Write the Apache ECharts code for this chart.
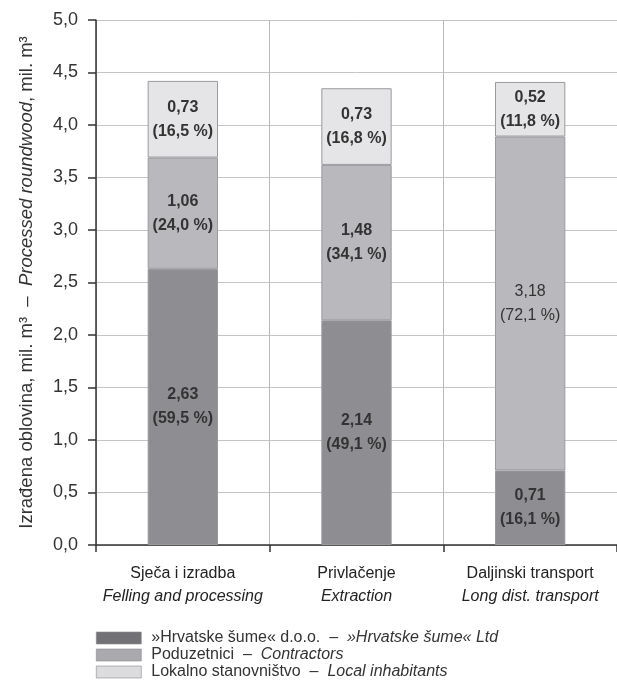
<!DOCTYPE html>
<html><head><meta charset="utf-8">
<script src="https://cdn.jsdelivr.net/npm/echarts@6/dist/echarts.min.js"></script>
<style>html,body{margin:0;padding:0;background:#fff}#c{width:617px;height:694px}</style>
</head><body><div id="c"></div>
<script>
// ---- data ----
const categoriesHr = ['Sječa i izradba', 'Privlačenje', 'Daljinski transport'];
const categoriesEn = ['Felling and processing', 'Extraction', 'Long dist. transport'];
const hsValues = [2.63, 2.14, 0.71];
const contractorValues = [1.06, 1.48, 3.18];
const localValues = [0.73, 0.73, 0.52];
const hsPct = [59.5, 49.1, 16.1];
const contractorPct = [24.0, 34.1, 72.1];
const localPct = [16.5, 16.8, 11.8];
const seriesNamesHr = ['»Hrvatske šume« d.o.o.', 'Poduzetnici', 'Lokalno stanovništvo'];
const seriesNamesEn = ['»Hrvatske šume« Ltd', 'Contractors', 'Local inhabitants'];
const contractorBold = [true, true, false];

// ---- styles ----
const FONT = "'Liberation Sans', Arial, sans-serif";
const barColors = ['#8e8e92', '#b9b9bd', '#e5e5e7'];
const legendColors = ['#727276', '#aaaaae', '#dcdcdf'];

const fmtNum = v => v.toFixed(2).replace('.', ',');
const fmtPct = v => '(' + v.toFixed(1).replace('.', ',') + ' %)';

function makeData(values, pcts, boldArr) {
  return values.map((v, i) => ({
    value: v,
    label: {
      formatter: fmtNum(v) + '\n' + fmtPct(pcts[i]),
      fontWeight: (boldArr && !boldArr[i]) ? 'normal' : 'bold'
    }
  }));
}

const labelBase = {
  show: true,
  position: 'inside',
  color: '#333',
  fontFamily: FONT,
  fontSize: 16,
  lineHeight: 24
};

const allVals = [hsValues, contractorValues, localValues];
const allPcts = [hsPct, contractorPct, localPct];

const series = allVals.map((vals, k) => ({
  name: seriesNamesHr[k],
  type: 'bar',
  stack: 'total',
  barWidth: '40.5%',
  itemStyle: { color: barColors[k], borderColor: '#9a9a9e', borderWidth: 1 },
  label: labelBase,
  emphasis: { disabled: true },
  data: makeData(vals, allPcts[k], k === 1 ? contractorBold : null)
}));

const chart = echarts.init(document.getElementById('c'), null, { renderer: 'canvas' });
chart.setOption({
  animation: false,
  backgroundColor: '#fff',
  grid: { left: 96, right: 0, top: 20, bottom: 149, containLabel: false },
  legend: {
    orient: 'vertical',
    left: 96,
    top: 630,
    padding: 0,
    itemWidth: 45,
    itemHeight: 12,
    itemGap: 1,
    icon: 'rect',
    data: seriesNamesHr.map((n, k) => ({
      name: n,
      itemStyle: { color: legendColors[k], borderColor: '#8a8a8e', borderWidth: 0.6 }
    })),
    formatter: name => {
      const k = seriesNamesHr.indexOf(name);
      return '{a|' + name + '  –  }{b|' + seriesNamesEn[k] + '}';
    },
    textStyle: {
      fontFamily: FONT,
      fontSize: 16,
      color: '#333',
      padding: [0, 0, 0, 5],
      rich: {
        a: { fontFamily: FONT, fontSize: 16, color: '#333', lineHeight: 15 },
        b: { fontFamily: FONT, fontSize: 16, color: '#333', fontStyle: 'italic', lineHeight: 15 }
      }
    },
    selectedMode: false
  },
  xAxis: {
    type: 'category',
    data: categoriesHr,
    boundaryGap: true,
    axisLine: { lineStyle: { color: '#333', width: 1.5 } },
    axisTick: { show: true, interval: 0, alignWithLabel: false, length: 7, lineStyle: { color: '#333', width: 1.5 } },
    splitLine: { show: true, interval: 0, lineStyle: { color: '#b8b8b8', width: 1 } },
    axisLabel: {
      interval: 0,
      hideOverlap: false,
      margin: 17,
      formatter: (v, i) => '{a|' + v + '}\n{b|' + categoriesEn[i] + '}',
      rich: {
        a: { fontFamily: FONT, fontSize: 16, color: '#222', lineHeight: 23 },
        b: { fontFamily: FONT, fontSize: 16, color: '#222', fontStyle: 'italic', lineHeight: 23 }
      }
    }
  },
  yAxis: {
    type: 'value',
    min: 0,
    max: 5,
    interval: 0.5,
    axisLine: { show: true, lineStyle: { color: '#333', width: 1.5 } },
    axisTick: { show: true, length: 8, lineStyle: { color: '#333', width: 1.5 } },
    splitLine: { show: true, lineStyle: { color: '#c4c4c4', width: 1 } },
    axisLabel: {
      margin: 18,
      fontFamily: FONT,
      fontSize: 18,
      color: '#333',
      formatter: v => v.toFixed(1).replace('.', ',')
    },
    name: '{a|Izrađena oblovina, mil. m³  –  }{b|Processed roundwood}{a|, mil. m³}',
    nameLocation: 'middle',
    nameRotate: 90,
    nameGap: 60,
    nameTextStyle: {
      rich: {
        a: { fontFamily: FONT, fontSize: 18.5, color: '#333' },
        b: { fontFamily: FONT, fontSize: 18.5, color: '#333', fontStyle: 'italic' }
      }
    }
  },
  series: series
});
</script>
</body></html>
